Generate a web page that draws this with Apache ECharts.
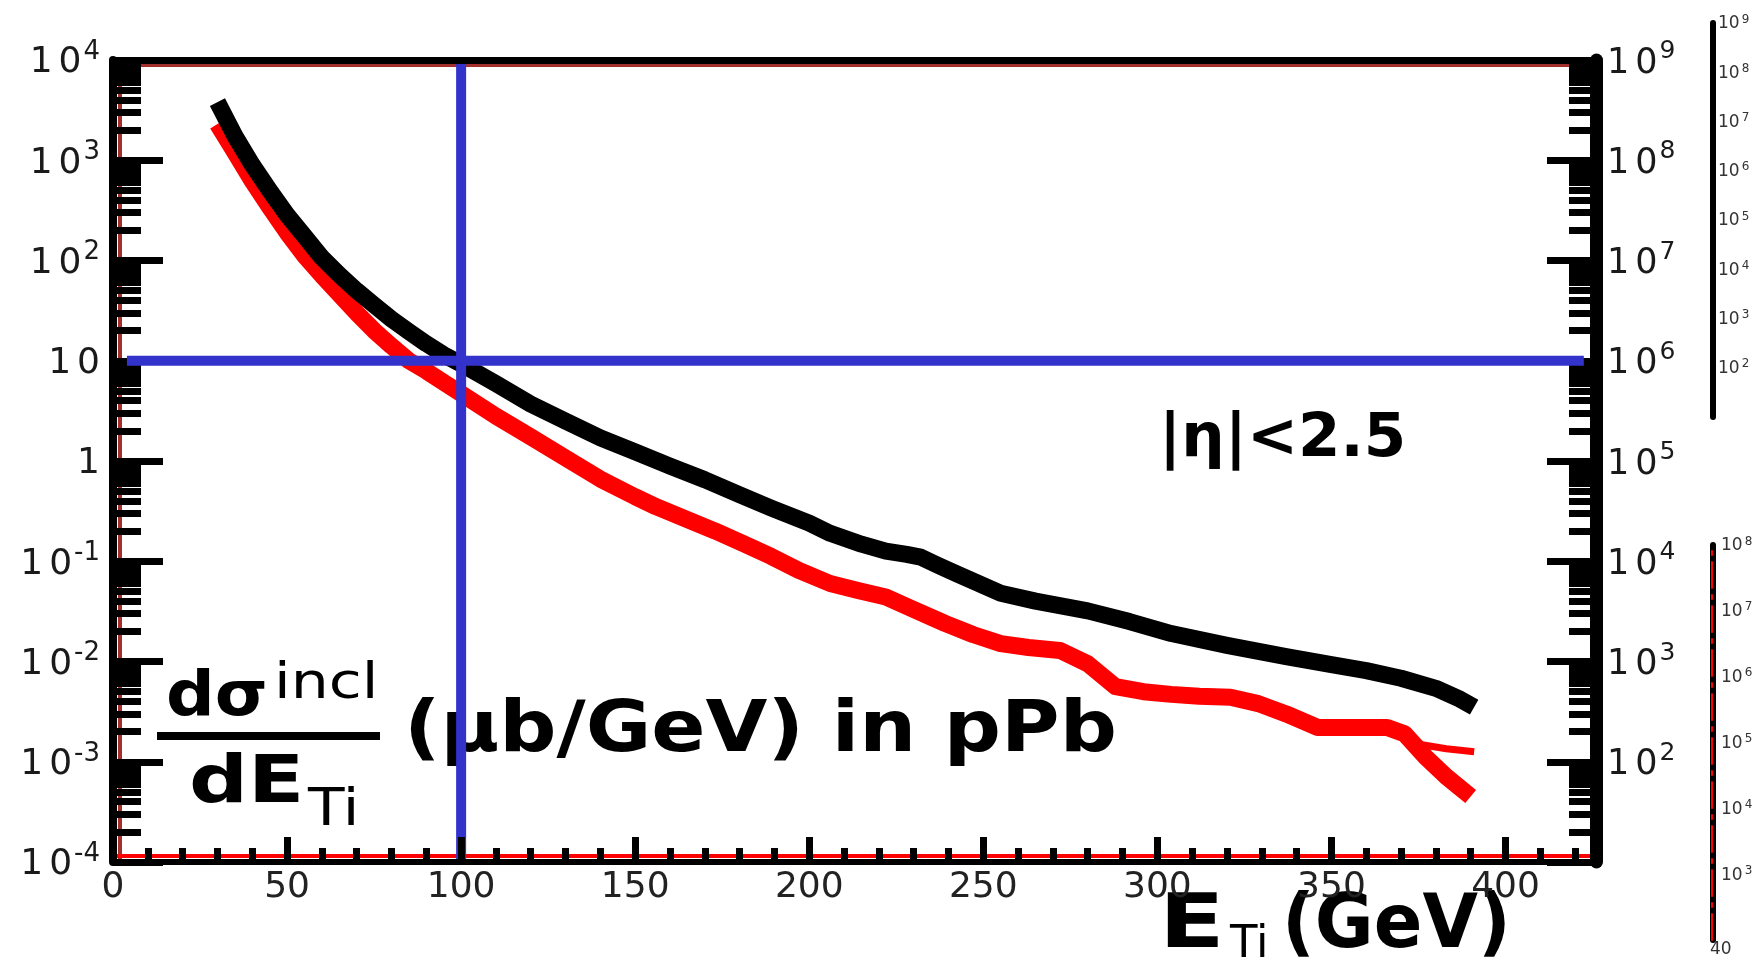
<!DOCTYPE html>
<html><head><meta charset="utf-8">
<script src="https://cdn.jsdelivr.net/npm/echarts@6/dist/echarts.min.js"></script>
<style>html,body{margin:0;padding:0;background:#fff}#c{width:1764px;height:961px}</style>
</head><body><div id="c"></div>
<script>
// ---------------- data ----------------
const blackX = [30,35,40,45,50,55,60,65,70,75,80,85,90,95,100,110,120,130,140,150,160,170,180,189,200,206,215,222,228,232,237,242,255,265,280,292,304,320,337,350,360,370,380,387,391];
const blackY = [3800,1750,900,500,285,175,107,72,50,36,26,19.5,14.8,11.5,9.3,5.9,3.7,2.5,1.7,1.23,0.89,0.65,0.46,0.34,0.24,0.19,0.148,0.126,0.117,0.110,0.091,0.076,0.048,0.040,0.032,0.025,0.019,0.0145,0.0112,0.0093,0.0081,0.0068,0.0054,0.0042,0.0035];
const redX = [30,35,40,45,50,55,60,65,70,75,80,85,90,100,110,120,130,140,150,156,165,173,181,189,197,206,214,222,230,239,247,255,263,272,280,288,296,304,312,321,329,337,346,356,366,371,377,383,390];
const redY = [2300,1200,620,340,190,112,71,46,30,20,14,10,7.9,4.7,2.8,1.74,1.07,0.66,0.44,0.35,0.26,0.20,0.15,0.112,0.081,0.060,0.051,0.044,0.033,0.024,0.0186,0.0151,0.0138,0.0129,0.0095,0.0056,0.0050,0.0047,0.0045,0.0044,0.0038,0.0030,0.0022,0.0022,0.0022,0.0019,0.00112,0.00071,0.00045];
const redBranchX = [371,376,383,391];
const redBranchY = [0.0019,0.00148,0.00135,0.00126];
const vCutX = [100,100];
const vCutY = [1e-4,1e4];
const hCutX = [4,422.5];
const hCutY = [10,10];

const xTicks = [0,50,100,150,200,250,300,350,400];
const xLabels = ['0','50','100','150','200','250','300','350','400'];
const xMinorTicks = [10,20,30,40,60,70,80,90,110,120,130,140,160,170,180,190,210,220,230,240,260,270,280,290,310,320,330,340,360,370,380,390,410,420];
const yLeftTicks = [1e-4,1e-3,1e-2,1e-1,1,10,1e2,1e3,1e4];
const yLeftLabels = ['10^-4','10^-3','10^-2','10^-1','1','10','10^2','10^3','10^4'];
const yRightTicks = [1e1,1e2,1e3,1e4,1e5,1e6,1e7,1e8,1e9];
const yRightLabelTicks = [1e2,1e3,1e4,1e5,1e6,1e7,1e8,1e9];
const yRightLabels = ['10^2','10^3','10^4','10^5','10^6','10^7','10^8','10^9'];
const minorMultipliers = [2,3,4,5,6,7,8,9];
const scaleATicks = [1e2,1e3,1e4,1e5,1e6,1e7,1e8,1e9];
const scaleALabels = ['10^2','10^3','10^4','10^5','10^6','10^7','10^8','10^9'];
const scaleBTicks = [1e3,1e4,1e5,1e6,1e7,1e8];
const scaleBLabels = ['10^3','10^4','10^5','10^6','10^7','10^8'];
const scaleBStray = '40';

// ---------------- helpers ----------------
const L = v => Math.log10(v);
const FONT = 'DejaVu Sans';
function minorTicks(lo, hi) {
  const out = [];
  for (let d = lo; d < hi; d++) minorMultipliers.forEach(m => out.push(d + L(m)));
  return out;
}
function supLabel(str) {
  const parts = str.split('^');
  const base = parts[0];
  let out = base.length === 2 ? '{a|' + base[0] + '}{b|' + base[1] + '}' : '{b|' + base + '}';
  if (parts[1]) out += '{s|' + parts[1] + '}';
  return out;
}
function makeFormatter(ticks, labels) {
  return function (v) {
    for (let i = 0; i < ticks.length; i++) if (Math.abs(L(ticks[i]) - v) < 1e-6) return supLabel(labels[i]);
    return '';
  };
}
function rich(fs, sfs, gap, lh, color) {
  return {
    a: {fontFamily: FONT, fontSize: fs, color: color, padding: [0, gap, 0, 0], lineHeight: lh, verticalAlign: 'bottom'},
    b: {fontFamily: FONT, fontSize: fs, color: color, lineHeight: lh, verticalAlign: 'bottom'},
    s: {fontFamily: FONT, fontSize: sfs, color: color, lineHeight: sfs, verticalAlign: 'top', padding: [0, 0, 0, 2]}
  };
}
const pairs = (xs, ys) => xs.map((x, i) => [x, L(ys[i])]);

const BLACK = '#000000', RED = '#ff0000', DARKRED = '#a3302c', BLUE = '#3333cc';
const none = {show: false};
const line = (color, width) => ({show: true, onZero: false, lineStyle: {color: color, width: width}});
const noLine = {show: false, onZero: false};

const option = {
  animation: false,
  backgroundColor: '#ffffff',
  grid: [
    {left: 113, top: 60, width: 1483, height: 802},
    {left: 1712, top: 23, width: 1, height: 394},
    {left: 1712, top: 545, width: 1, height: 395}
  ],
  xAxis: [
    {type: 'value', gridIndex: 0, min: 0, max: 426, position: 'bottom', z: 10,
     axisLine: line(BLACK, 6),
     axisTick: {show: true, inside: true, length: 25, lineStyle: {color: BLACK, width: 7}, customValues: xTicks},
     axisLabel: {show: true, customValues: xTicks, margin: 8, fontFamily: FONT, fontSize: 36, color: '#222222',
                 formatter: v => xLabels[xTicks.indexOf(v)] ?? ''},
     splitLine: none},
    {type: 'value', gridIndex: 0, min: 0, max: 426, position: 'bottom', z: 10,
     axisLine: noLine,
     axisTick: {show: true, inside: true, length: 14, lineStyle: {color: BLACK, width: 7}, customValues: xMinorTicks},
     axisLabel: none, splitLine: none},
    {type: 'value', gridIndex: 0, min: 0, max: 426, position: 'bottom', offset: -6, z: 0,
     axisLine: line(RED, 4), axisTick: none, axisLabel: none, splitLine: none},
    {type: 'value', gridIndex: 0, min: 0, max: 426, position: 'top', z: 10,
     axisLine: line(BLACK, 7), axisTick: none, axisLabel: none, splitLine: none},
    {type: 'value', gridIndex: 0, min: 0, max: 426, position: 'top', offset: -5.5, z: 0,
     axisLine: line(DARKRED, 3), axisTick: none, axisLabel: none, splitLine: none},
    {type: 'value', gridIndex: 1, show: false},
    {type: 'value', gridIndex: 2, show: false}
  ],
  yAxis: [
    {type: 'value', gridIndex: 0, min: -4, max: 4, position: 'left', z: 1,
     axisLine: line(BLACK, 8),
     axisTick: {show: true, inside: true, length: 50, lineStyle: {color: BLACK, width: 7}, customValues: yLeftTicks.map(L)},
     axisLabel: {show: true, customValues: yLeftTicks.map(L), margin: 13, formatter: makeFormatter(yLeftTicks, yLeftLabels),
                 rich: rich(36, 26, 6, 42, '#1a1a1a')},
     splitLine: none},
    {type: 'value', gridIndex: 0, min: -4, max: 4, position: 'left', z: 1,
     axisLine: noLine,
     axisTick: {show: true, inside: true, length: 28, lineStyle: {color: BLACK, width: 7}, customValues: minorTicks(-4, 4)},
     axisLabel: none, splitLine: none},
    {type: 'value', gridIndex: 0, min: -4, max: 4, position: 'left', offset: -7, z: 0,
     axisLine: line(DARKRED, 4), axisTick: none, axisLabel: none, splitLine: none},
    {type: 'value', gridIndex: 0, min: 1, max: 9, position: 'right', z: 1,
     axisLine: line(BLACK, 13),
     axisTick: {show: true, inside: true, length: 49, lineStyle: {color: BLACK, width: 7}, customValues: yRightTicks.map(L)},
     axisLabel: {show: true, customValues: yRightLabelTicks.map(L), margin: 11, formatter: makeFormatter(yRightLabelTicks, yRightLabels),
                 rich: rich(35, 25, 6, 42, '#1a1a1a')},
     splitLine: none},
    {type: 'value', gridIndex: 0, min: 1, max: 9, position: 'right', z: 1,
     axisLine: noLine,
     axisTick: {show: true, inside: true, length: 27, lineStyle: {color: BLACK, width: 7}, customValues: minorTicks(1, 9)},
     axisLabel: none, splitLine: none},
    {type: 'value', gridIndex: 1, min: 1, max: 9, position: 'right', z: 1,
     axisLine: line(BLACK, 6), axisTick: none,
     axisLabel: {show: true, customValues: scaleATicks.map(L), margin: 5, formatter: makeFormatter(scaleATicks, scaleALabels),
                 rich: rich(17, 12, 0, 19, '#333333')},
     splitLine: none},
    {type: 'value', gridIndex: 2, min: 2, max: 8, position: 'right', z: 1,
     axisLine: line(BLACK, 6), axisTick: none,
     axisLabel: {show: true, customValues: scaleBTicks.map(L), margin: 8, formatter: makeFormatter(scaleBTicks, scaleBLabels),
                 rich: rich(17, 12, 0, 19, '#333333')},
     splitLine: none},
    {type: 'value', gridIndex: 2, min: 2, max: 8, position: 'right', offset: -1.5, z: 2,
     axisLine: {show: true, onZero: false, lineStyle: {color: RED, width: 2, type: [26, 7, 4, 7]}}, axisTick: none, axisLabel: none, splitLine: none}
  ],
  series: [
    {type: 'line', xAxisIndex: 0, yAxisIndex: 0, data: pairs(redX, redY), symbol: 'none', z: 3,
     lineStyle: {color: RED, width: 17, cap: 'butt', join: 'round'}},
    {type: 'line', xAxisIndex: 0, yAxisIndex: 0, data: pairs(redBranchX, redBranchY), symbol: 'none', z: 3,
     lineStyle: {color: RED, width: 7, cap: 'butt', join: 'round'}},
    {type: 'line', xAxisIndex: 0, yAxisIndex: 0, data: pairs(blackX, blackY), symbol: 'none', z: 3,
     lineStyle: {color: BLACK, width: 17, cap: 'butt', join: 'round'}},
    {type: 'line', xAxisIndex: 0, yAxisIndex: 0, data: pairs(vCutX, vCutY), symbol: 'none', z: 4,
     lineStyle: {color: BLUE, width: 10, cap: 'butt'}},
    {type: 'line', xAxisIndex: 0, yAxisIndex: 0, data: pairs(hCutX, hCutY), symbol: 'none', z: 4,
     lineStyle: {color: BLUE, width: 10, cap: 'butt'}}
  ],
  graphic: [
    {type: 'text', x: 1159, y: 440, style: {text: '|η|<2.5', font: 'bold 61px "DejaVu Sans"', fill: BLACK, align: 'left', verticalAlign: 'middle'}},
    {type: 'text', x: 166, y: 699, scaleX: 1.1, style: {text: 'dσ', font: 'bold 62px "DejaVu Sans"', fill: BLACK, align: 'left', verticalAlign: 'middle'}},
    {type: 'text', x: 274, y: 685, scaleX: 1.2, style: {text: 'incl', font: '50px "DejaVu Sans"', fill: BLACK, align: 'left', verticalAlign: 'middle'}},
    {type: 'rect', shape: {x: 157, y: 732, width: 223, height: 8}, style: {fill: BLACK}},
    {type: 'text', x: 189, y: 785, scaleX: 1.25, style: {text: 'dE', font: 'bold 66px "DejaVu Sans"', fill: BLACK, align: 'left', verticalAlign: 'middle'}},
    {type: 'text', x: 308, y: 811, scaleX: 1.15, style: {text: 'Ti', font: '52px "DejaVu Sans"', fill: BLACK, align: 'left', verticalAlign: 'middle'}},
    {type: 'text', x: 404, y: 732, scaleX: 1.11, style: {text: '(μb/GeV) in pPb', font: 'bold 72px "DejaVu Sans"', fill: BLACK, align: 'left', verticalAlign: 'middle'}},
    {type: 'text', x: 1159, y: 928, scaleX: 1.3, style: {text: 'E', font: 'bold 74px "DejaVu Sans"', fill: BLACK, align: 'left', verticalAlign: 'middle'}},
    {type: 'text', x: 1230, y: 945, style: {text: 'Ti', font: '45px "DejaVu Sans"', fill: BLACK, align: 'left', verticalAlign: 'middle'}},
    {type: 'text', x: 1282, y: 928, scaleX: 0.97, style: {text: '(GeV)', font: 'bold 74px "DejaVu Sans"', fill: BLACK, align: 'left', verticalAlign: 'middle'}},
    {type: 'text', x: 1710, y: 950, style: {text: scaleBStray, font: '17px "DejaVu Sans"', fill: '#333333', align: 'left', verticalAlign: 'middle'}}
  ]
};
const chart = echarts.init(document.getElementById('c'));
chart.setOption(option);
</script></body></html>
